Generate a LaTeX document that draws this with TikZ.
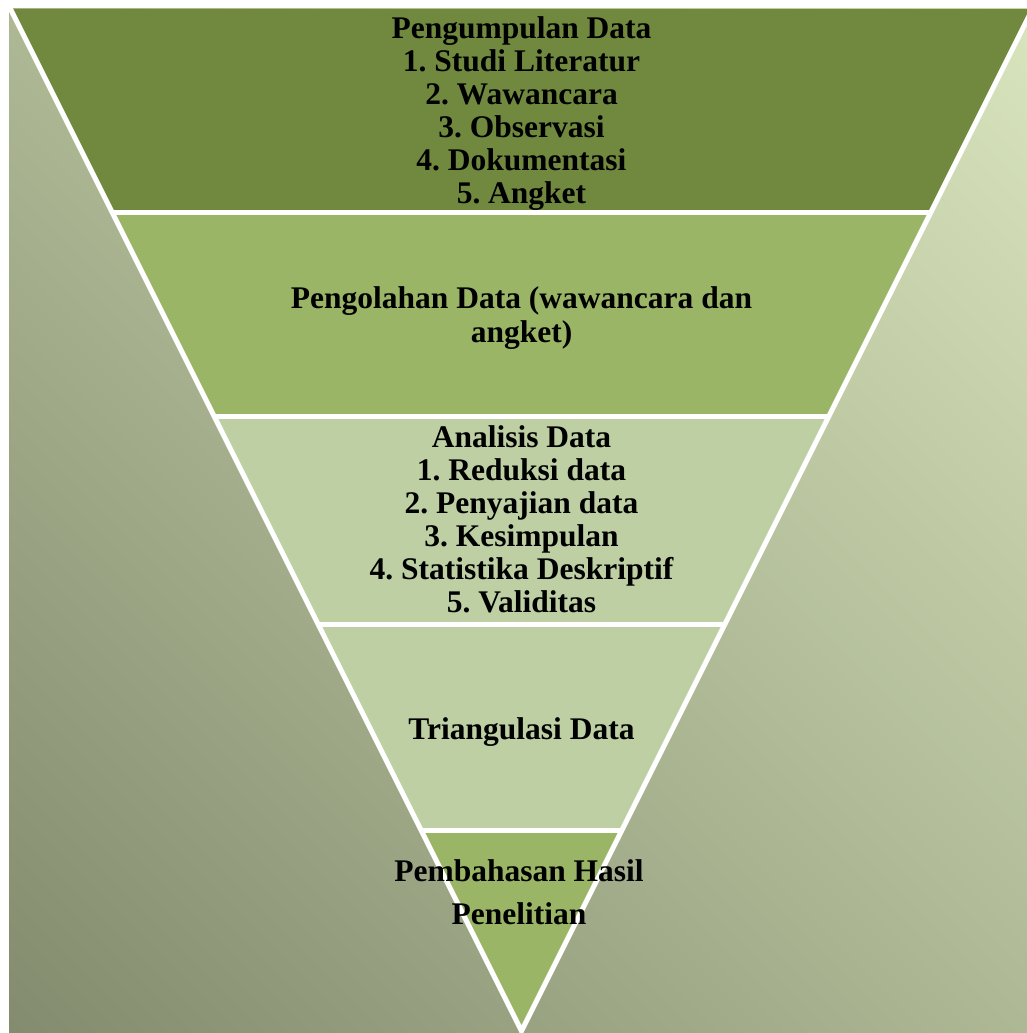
\documentclass[tikz,border=0pt]{standalone}
\usepackage{fontspec}
\setmainfont{Liberation Serif}
\usepackage{tikz}
\usetikzlibrary{calc}
\definecolor{bandA}{RGB}{113,137,63}
\definecolor{bandB}{RGB}{155,181,102}
\definecolor{bandC}{RGB}{189,207,163}
\definecolor{bgdark}{RGB}{131,140,110}
\definecolor{bgmid}{RGB}{186,199,160}
\definecolor{bglight}{RGB}{216,228,188}
\frenchspacing
\tikzset{
    % white borders of the funnel
    whiteline/.style={
        line width=5pt,
        white,
        line join=miter
    },
    % bold text inside the bands
    bandtext/.style={
        align=center,
        inner sep=0pt,
        font=\fontsize{31.5}{33}\selectfont\bfseries
    }
}

\begin{document}
\begin{tikzpicture}[x=1pt,y=1pt]
			\fill[white] (0,0) rectangle (1027,-1033);
			\useasboundingbox (0,0) rectangle (1027,-1033);
			
			% background with diagonal gradient (shaded area enlarged, then clipped)
			\begin{scope}
				\clip (9,-9) rectangle (1027,-1033);
				\shade[bottom color=bgdark, middle color=bgmid, top color=bglight, shading angle=-45] (-202,203) rectangle (1238,-1245);
			\end{scope}
			
			% corners of the bands
			\foreach \n/\y in {0/0,1/9,2/212,3/416,4/624,5/830}{
				\coordinate (l\n) at ({521.5-(1031-\y)/2},-\y);
				\coordinate (r\n) at ({521.5+(1031-\y)/2},-\y);
			}
			\coordinate (apex) at (521.5,-1031);
			
			% bands
			\fill[bandA] (l1) -- (r1) -- (r2) -- (l2) -- cycle;
			\fill[bandB] (l2) -- (r2) -- (r3) -- (l3) -- cycle;
			\fill[bandC] (l3) -- (r3) -- (r4) -- (l4) -- cycle;
			\fill[bandC] (l4) -- (r4) -- (r5) -- (l5) -- cycle;
			\fill[bandB] (l5) -- (r5) -- (apex) -- cycle;
			
			% white lines
			\draw[whiteline] (l0) -- (apex) -- (r0);
			\foreach \n in {2,...,5}
				\draw[whiteline] (l\n) -- (r\n);
			
			% texts
			\node[bandtext] (collect) at (521.5,-113.5) {Pengumpulan Data\\1. Studi Literatur\\2. Wawancara\\3. Observasi\\4. Dokumentasi\\5. Angket};
			\node[bandtext, font=\fontsize{31.5}{34}\selectfont\bfseries] (process) at (521.5,-318) {Pengolahan Data (wawancara dan\\angket)};
			\node[bandtext] (analysis) at (521.5,-519.5) {Analisis Data\\1. Reduksi data\\2. Penyajian data\\3. Kesimpulan\\4. Statistika Deskriptif\\5. Validitas};
			\node[bandtext] (triang) at (521.5,-732) {Triangulasi Data};
			\node[bandtext, font=\fontsize{31.5}{43}\selectfont\bfseries] (result) at (519,-892) {Pembahasan Hasil\\Penelitian};
		\end{tikzpicture}
\end{document}
